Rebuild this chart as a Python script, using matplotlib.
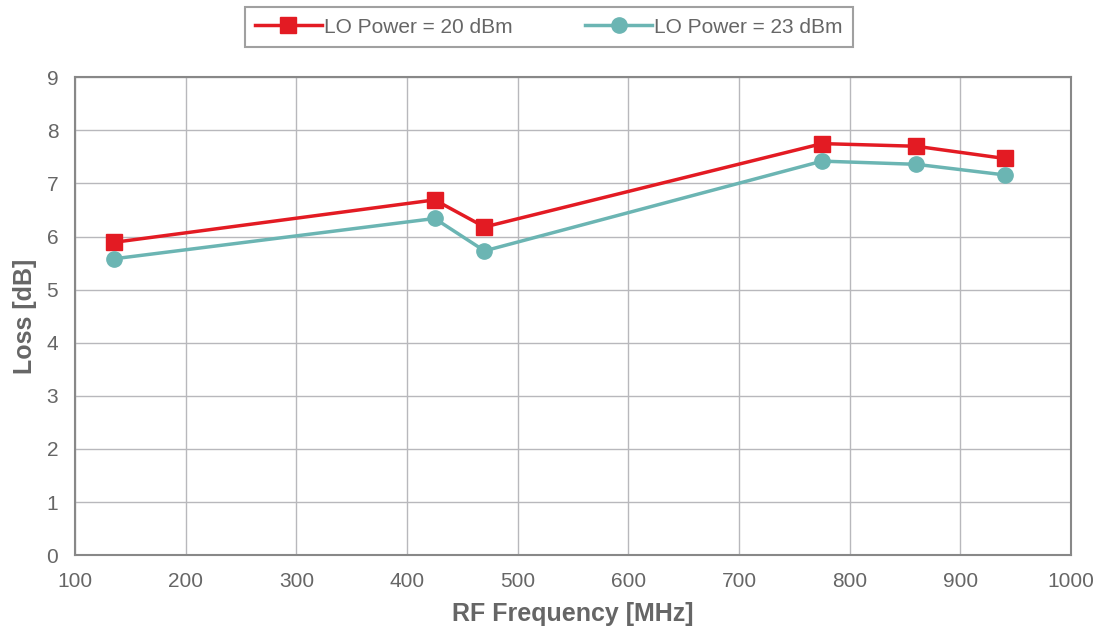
import matplotlib
matplotlib.use('Agg')
import matplotlib.pyplot as plt

# data
freq = [135, 425, 470, 775, 860, 940]
loss_20dbm = [5.89, 6.69, 6.18, 7.75, 7.70, 7.47]
loss_23dbm = [5.58, 6.34, 5.73, 7.42, 7.36, 7.16]

red = '#E31B23'
teal = '#6BB5B3'
txt = '#666666'

plt.rcParams['font.family'] = ['Liberation Sans', 'DejaVu Sans']

fig = plt.figure(figsize=(11.02, 6.33), dpi=100)
ax = fig.add_axes([0.068, 0.123, 0.904, 0.755])

ax.plot(freq, loss_20dbm, color=red, lw=2.5, marker='s', ms=11, label='LO Power = 20 dBm')
ax.plot(freq, loss_23dbm, color=teal, lw=2.5, marker='o', ms=11, label='LO Power = 23 dBm')

ax.set_xlim(100, 1000)
ax.set_ylim(0, 9)
ax.set_xticks(range(100, 1001, 100))
ax.set_yticks(range(0, 10))
ax.grid(True, color='#b8b8bc', lw=1)
ax.set_axisbelow(True)
for s in ax.spines.values():
    s.set_color('#888888')
    s.set_linewidth(1.5)
ax.tick_params(length=0, labelsize=15, colors=txt)
ax.tick_params(axis='x', pad=12)
ax.tick_params(axis='y', pad=12)

ax.set_xlabel('RF Frequency [MHz]', fontsize=18, fontweight='bold', color=txt, labelpad=8)
ax.set_ylabel('Loss [dB]', fontsize=18, fontweight='bold', color=txt, labelpad=7)

leg = fig.legend(loc='center', bbox_to_anchor=(0.498, 0.957), ncol=2, fontsize=15,
                 frameon=True, fancybox=False, handlelength=3.2, columnspacing=3.5,
                 borderpad=0.5, handletextpad=0.1, borderaxespad=0)
leg.get_frame().set_edgecolor('#888888')
leg.get_frame().set_linewidth(1.5)
for t in leg.get_texts():
    t.set_color(txt)

fig.savefig('out.png', dpi=100)
